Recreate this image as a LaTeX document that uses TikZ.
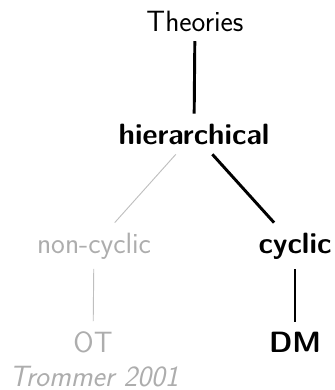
\documentclass[tikz,border=0pt]{standalone}
\usetikzlibrary{positioning}
\begin{document}
\begin{tikzpicture}[x=0.75pt,y=-0.75pt,
  every node/.style={font=\fontsize{22}{26}\sffamily, anchor=base, inner sep=7.3pt},
  strong/.style={font=\fontsize{22}{26}\sffamily\bfseries},
  faded/.style={text=black!32},
  thickedge/.style={draw=black, line width=2.2pt},
  thinedge/.style={draw=black!25, line width=0.7pt}]
\useasboundingbox (0,0) rectangle (335,390);
\node (T) at (195,31) {Theories};
\node[strong] (H) at (194,144) {hierarchical};
\node[faded] (N) at (94,253) {non-cyclic};
\node[strong] (C) at (295,253) {cyclic};
\node[faded] (O) at (93,352) {OT};
\node[strong] (D) at (295,352) {DM};
\node[faded, font=\fontsize{22}{26}\sffamily\itshape] (R) at (94,386) {Trommer 2001};
\draw[thickedge] (T) -- (H);
\draw[thinedge] (H) -- (N);
\draw[thickedge] (H) -- (C);
\draw[thinedge] (N) -- (O);
\draw[thickedge] (C) -- (D);
\end{tikzpicture}
\end{document}
